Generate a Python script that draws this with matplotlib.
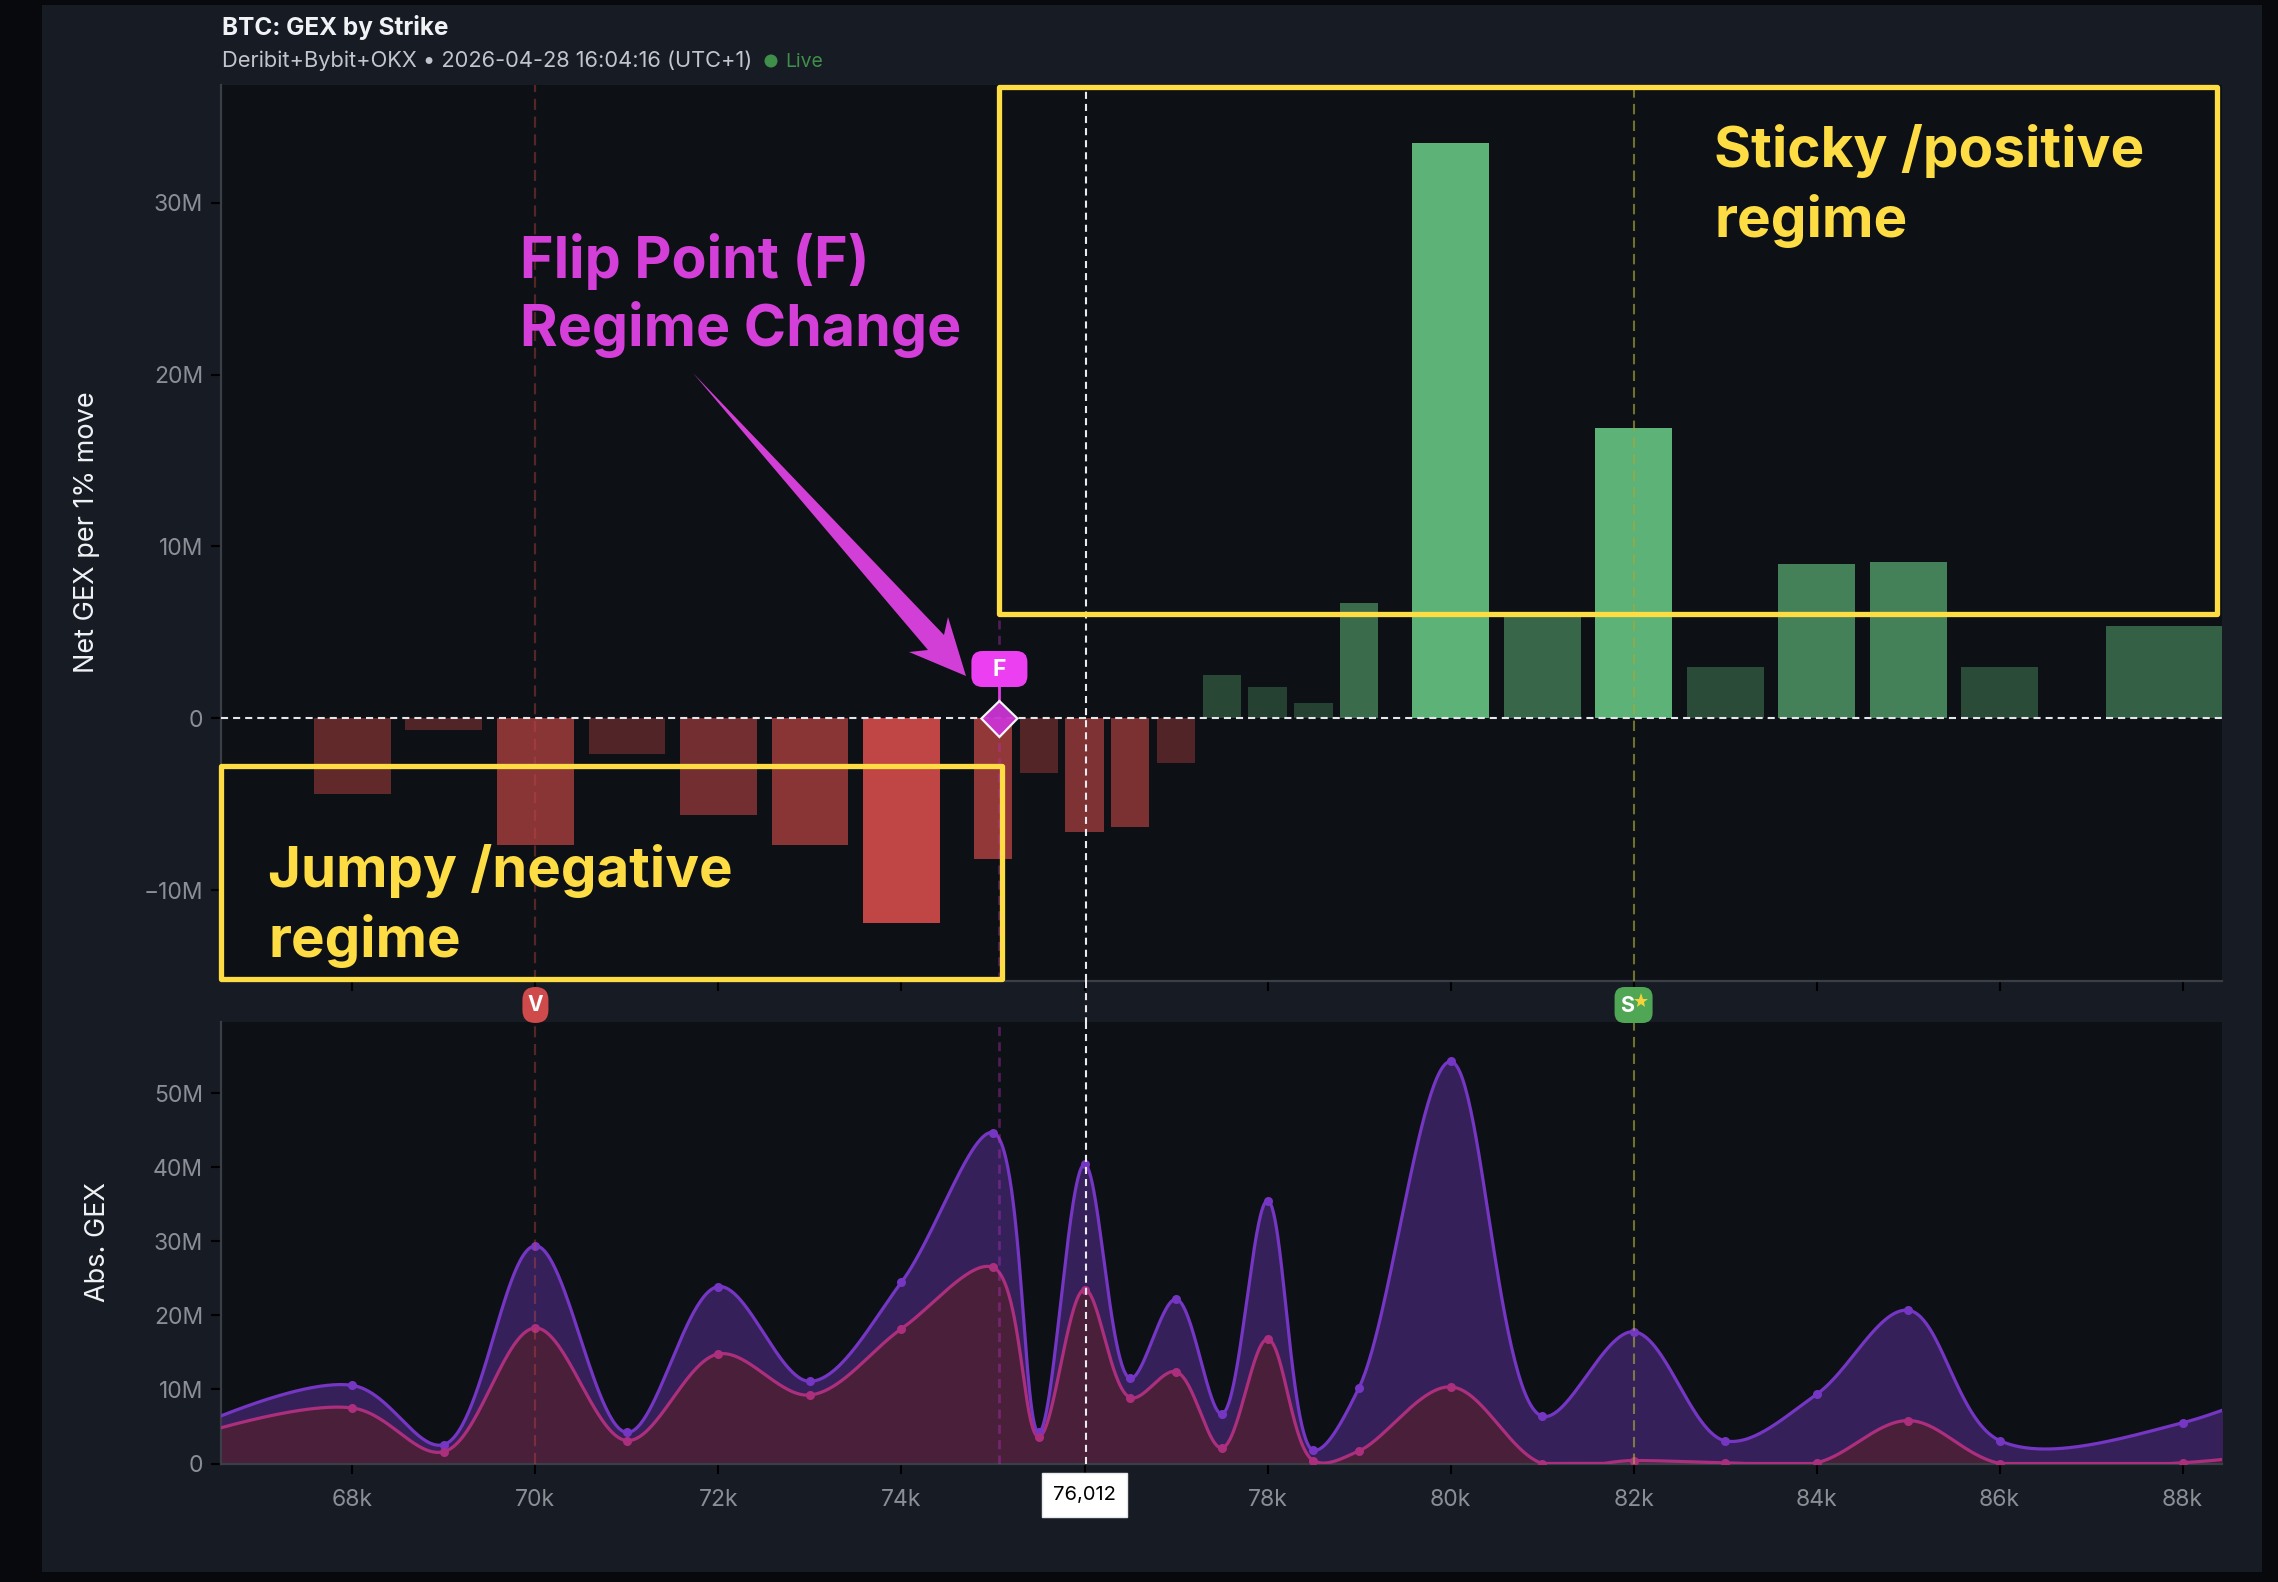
import numpy as np
import matplotlib
matplotlib.use("Agg")
import matplotlib.pyplot as plt
from matplotlib.patches import Rectangle, FancyBboxPatch, Polygon, Circle

W, H = 2278, 1582
plt.rcParams['font.family'] = ['Inter', 'DejaVu Sans']

strikes = [68, 69, 70, 71, 72, 73, 74, 75, 75.5, 76, 76.5, 77, 77.5, 78, 78.5, 79, 80, 81, 82, 83, 84, 85, 86, 88]
net_gex = [-4.4, -0.7, -7.4, -2.1, -5.6, -7.4, -11.9, -8.2, -3.2, -6.6, -6.3, -2.6, 2.5, 1.8, 0.9, 6.7, 33.5, 6.0, 16.9, 3.0, 9.0, 9.1, 3.0, 5.4]
abs_total = [10.55, 2.56, 29.4, 4.2, 23.9, 11.1, 24.5, 44.7, 4.2, 40.4, 11.5, 22.2, 6.7, 35.5, 1.8, 10.25, 54.3, 6.4, 17.8, 3.07, 9.35, 20.7, 3.1, 5.5]
abs_neg = [7.5, 1.6, 18.3, 3.1, 14.8, 9.25, 18.2, 26.5, 3.6, 23.5, 8.9, 12.4, 2.1, 16.8, 0.4, 1.7, 10.35, 0.0, 0.4, 0.1, 0.1, 5.8, 0.0, 0.1]
# strikes just outside the visible window, needed for the curve ends
edge_strikes = [66, 90]
edge_total = [3.5, 16.0]
edge_neg = [2.8, 3.0]
xticks = [68, 70, 72, 74, 76, 78, 80, 82, 84, 86, 88]
top_ticks = [-10, 0, 10, 20, 30]
bot_ticks = [0, 10, 20, 30, 40, 50]
spot = 76.012
flip = 75.07
wall_v = 70
wall_s = 82

XLIM = (66.564, 88.43)
YTOP = (-15.29, 36.86)
YBOT = (0, 59.7)
L, R = 221, 2222
BT, BB = 1021.5, 1463.5


def smooth_curve(x, y, sx, sy, smoothing=1.0, n=60):
    """Centripetal Catmull-Rom through the points, computed in pixel space."""
    px_ = np.asarray(x, float) * sx
    py_ = np.asarray(y, float) * sy
    out_x, out_y = [], []
    left, right = [], []
    for i in range(1, len(px_) - 1):
        d1 = np.array([px_[i - 1] - px_[i], py_[i - 1] - py_[i]])
        d2 = np.array([px_[i + 1] - px_[i], py_[i + 1] - py_[i]])
        a1 = np.hypot(*d1) ** 0.5
        a2 = np.hypot(*d2) ** 0.5
        num = (a2 * a2 * d1 - a1 * a1 * d2) * smoothing
        left.append(np.array([px_[i], py_[i]]) + num / (3 * a2 * (a1 + a2)))
        right.append(np.array([px_[i], py_[i]]) - num / (3 * a1 * (a1 + a2)))
    t = np.linspace(0, 1, n)[:, None]
    for i in range(1, len(px_) - 2):
        p0 = np.array([px_[i], py_[i]])
        p3 = np.array([px_[i + 1], py_[i + 1]])
        c1 = right[i - 1]
        c2 = left[i]
        b = (1 - t)**3 * p0 + 3 * (1 - t)**2 * t * c1 + 3 * (1 - t) * t**2 * c2 + t**3 * p3
        out_x.append(b[:, 0]); out_y.append(b[:, 1])
    # end segments
    p0 = np.array([px_[0], py_[0]]); p3 = np.array([px_[1], py_[1]]); c = left[0]
    b = (1 - t)**2 * p0 + 2 * (1 - t) * t * c + t**2 * p3
    out_x.insert(0, b[:, 0]); out_y.insert(0, b[:, 1])
    p0 = np.array([px_[-2], py_[-2]]); p3 = np.array([px_[-1], py_[-1]]); c = right[-1]
    b = (1 - t)**2 * p0 + 2 * (1 - t) * t * c + t**2 * p3
    out_x.append(b[:, 0]); out_y.append(b[:, 1])
    return np.concatenate(out_x) / sx, np.concatenate(out_y) / sy


fig = plt.figure(figsize=(W / 100, H / 100), dpi=100, facecolor='#07090c')


def axes_px(x0, y0, x1, y1, **kw):
    return fig.add_axes([x0 / W, 1 - y1 / H, (x1 - x0) / W, (y1 - y0) / H], **kw)


CARD = '#171b23'
PLOT = '#0d1014'
GRID = '#3a3e46'
TICKC = '#8b8e95'

bg = axes_px(0, 0, W, H, zorder=0)
bg.set_xlim(0, W); bg.set_ylim(H, 0); bg.axis('off')
bg.add_patch(Rectangle((42, 5), 2220, 1567, fc=CARD, ec='none'))

ax1 = axes_px(L, 85, R, 981, zorder=1)
ax2 = axes_px(L, BT, R, BB, zorder=1)
for ax, lim, ticks in ((ax1, YTOP, top_ticks), (ax2, YBOT, bot_ticks)):
    ax.set_facecolor(PLOT)
    ax.set_xlim(*XLIM)
    ax.set_ylim(*lim)
    ax.set_xticks(xticks)
    ax.set_yticks(ticks)
    ax.set_yticklabels([('0' if t == 0 else f'{t}M'.replace('-', '\u2212')) for t in ticks])
    for s in ('top', 'right'):
        ax.spines[s].set_visible(False)
    for s in ('left', 'bottom'):
        ax.spines[s].set_color(GRID)
        ax.spines[s].set_linewidth(1.6)
    ax.tick_params(axis='both', color='#000000', length=7, width=1.5, labelcolor=TICKC, labelsize=16.5, pad=6)

ax1.tick_params(axis='x', labelbottom=False)
ax2.set_xticklabels(['' if t == 76 else f'{t}k' for t in xticks])  # 76k sits under the spot label
ax2.tick_params(axis='x', pad=11)

# top bars
s_arr = np.array(strikes, float)
v_arr = np.array(net_gex, float)
gaps = np.empty_like(s_arr)
gaps[1:-1] = np.minimum(np.diff(s_arr)[1:], np.diff(s_arr)[:-1])
gaps[0] = np.diff(s_arr)[0]
gaps[-1] = np.diff(s_arr)[-1]
widths = gaps * 0.84
GREEN = np.array(matplotlib.colors.to_rgb('#5cb277'))
RED = np.array(matplotlib.colors.to_rgb('#c04545'))
P = np.array(matplotlib.colors.to_rgb(PLOT))
for x, v, w in zip(s_arr, v_arr, widths):
    a = float(np.clip(0.16 + 0.072 * abs(v), 0.38, 1.0)) if v < 0 else float(np.clip(0.2 + 0.055 * abs(v), 0.3, 1.0))
    base = GREEN if v > 0 else RED
    ax1.bar(x, v, width=w, color=tuple(base * a + P * (1 - a)), zorder=2)

ax1.axhline(0, color='#e4e6ea', lw=1.5, dashes=(3.4, 2.4), zorder=4)
for ax, z in ((ax1, 3), (ax2, 3.4)):
    ax.axvline(wall_v, color='#c24646', alpha=0.4, lw=1.6, dashes=(5, 3), zorder=z)
    ax.axvline(flip, color='#b82fc0', alpha=0.4, lw=1.9, dashes=(3.4, 2.4), zorder=z)
    ax.axvline(wall_s, color='#a4a83c', alpha=0.65, lw=1.5, dashes=(5, 3), zorder=z)
ax1.axvline(spot, color='#e8eaee', lw=1.5, dashes=(3.4, 2.4), zorder=5)
ax2.axvline(spot, color='#e8eaee', lw=1.5, dashes=(3.4, 2.4), zorder=3.5)

# bottom areas
sx = (R - L) / (XLIM[1] - XLIM[0])
sy = (BB - BT) / (YBOT[1] - YBOT[0])
all_x = [edge_strikes[0]] + strikes + [edge_strikes[1]]
tx, ty = smooth_curve(all_x, [edge_total[0]] + abs_total + [edge_total[1]], sx, sy)
nx, ny = smooth_curve(all_x, [edge_neg[0]] + abs_neg + [edge_neg[1]], sx, sy)
ty = np.maximum(ty, 0)
ny = np.maximum(ny, 0)
ax2.fill_between(tx, 0, ty, color='#36205a', lw=0, zorder=2)
ax2.fill_between(nx, 0, ny, color='#4a1f3a', lw=0, zorder=2.1)
ax2.plot(tx, ty, color='#7636c4', lw=2.3, zorder=3)
ax2.plot(nx, ny, color='#ac2f7e', lw=2.3, zorder=3.1)
ax2.plot(strikes, abs_total, 'o', color='#7636c4', ms=6.5, mew=0, zorder=3.2)
ax2.plot(strikes, abs_neg, 'o', color='#ac2f7e', ms=6.5, mew=0, zorder=3.3)

# overlay in pixel coordinates
ov = axes_px(0, 0, W, H, zorder=5)
ov.set_xlim(0, W); ov.set_ylim(H, 0); ov.axis('off'); ov.patch.set_alpha(0)


def xpx(x):
    return L + (x - XLIM[0]) / (XLIM[1] - XLIM[0]) * (R - L)


def pill(x0, y0, x1, y1, r, color, z=6):
    ov.add_patch(FancyBboxPatch((x0 + r, y0 + r), x1 - x0 - 2 * r, y1 - y0 - 2 * r,
                                boxstyle=f'round,pad={r},rounding_size={r}', fc=color, ec='none', zorder=z))


# spot line across the gap + label
ov.plot([xpx(spot)] * 2, [981, 1021.5], color='#e8eaee', lw=1.5, dashes=(3.4, 2.4), zorder=4)
ov.add_patch(Rectangle((1042, 1473), 85, 44, fc='white', ec='#e6e8ee', lw=1, zorder=6))
ov.text(1084.5, 1495, '76,012', color='black', fontsize=14.5, ha='center', va='center', zorder=7)

# V / S / F markers
pill(xpx(wall_v) - 13, 987, xpx(wall_v) + 13, 1023, 12.9, '#cf4a4a')
ov.text(xpx(wall_v), 1005, 'V', color='white', fontsize=15, fontweight='bold', ha='center', va='center', zorder=7)
pill(xpx(wall_s) - 19, 987, xpx(wall_s) + 19, 1023, 10, '#4fa655')
ov.text(xpx(wall_s) - 6.5, 1006, 'S', color='white', fontsize=15.5, fontweight='bold', ha='center', va='center', zorder=7)
ov.plot([xpx(wall_s) + 7], [1001], marker='*', ms=11, color='#f5d33b', mew=0, zorder=7)

fx = xpx(flip)
ov.plot([fx, fx], [687, 702], color='#e23be6', lw=2, zorder=6)
pill(fx - 28, 651, fx + 28, 687, 11, '#ec3ff2')
ov.text(fx, 669.5, 'F', color='white', fontsize=16.5, fontweight='bold', ha='center', va='center', zorder=7)
ov.add_patch(Polygon([(fx, 701), (fx + 18, 718.5), (fx, 737), (fx - 18, 718.5)], closed=True, fc='#c934d2', ec='white', lw=1.6, alpha=0.95, zorder=6))

# highlight boxes
YEL = '#fddc44'
ov.add_patch(Rectangle((999, 87), 1218, 527, fc='none', ec=YEL, lw=3.8, zorder=8, joinstyle='round'))
ov.add_patch(Rectangle((221, 765.5), 780.5, 213.5, fc='none', ec=YEL, lw=3.8, zorder=8, joinstyle='round'))

# arrow
ov.add_patch(Polygon([(693, 373), (944, 635), (948, 617), (966, 676), (909, 652), (928, 650)], closed=True,
                     fc='#d23fd6', ec='none', zorder=8))

# callouts
MAG = '#d33fd8'
BIG = dict(fontweight='bold', ha='left', va='center', zorder=9)
ov.text(520, 261, 'Flip Point (F)', color=MAG, fontsize=41.3, **BIG)
ov.text(520, 330, 'Regime Change', color=MAG, fontsize=41.3, **BIG)
ov.text(1714, 151, 'Sticky /positive', color=YEL, fontsize=40.8, **BIG)
ov.text(1714, 221, 'regime', color=YEL, fontsize=40.8, **BIG)
ov.text(268, 871, 'Jumpy /negative', color=YEL, fontsize=40.6, **BIG)
ov.text(268, 941, 'regime', color=YEL, fontsize=40.6, **BIG)

# titles
ov.text(222, 28, 'BTC: GEX by Strike', color='#f0f2f6', fontsize=17.5, fontweight='bold', ha='left', va='center')
ov.text(222, 61, 'Deribit+Bybit+OKX \u2022 2026-04-28 16:04:16 (UTC+1)', color='#c2c5cc', fontsize=15.75, ha='left', va='center')
ov.add_patch(Circle((771, 61), 6.5, fc='#3f8f4a', ec='none'))
ov.text(785, 62, 'Live', color='#3f8f4a', fontsize=14, ha='left', va='center')
ov.text(87, 532, 'Net GEX per 1% move', color='#f0f2f6', fontsize=19.5, rotation=90, ha='center', va='center')
ov.text(98, 1242, 'Abs. GEX', color='#f0f2f6', fontsize=19.5, rotation=90, ha='center', va='center')

fig.savefig('out.png', dpi=100, facecolor=fig.get_facecolor())
